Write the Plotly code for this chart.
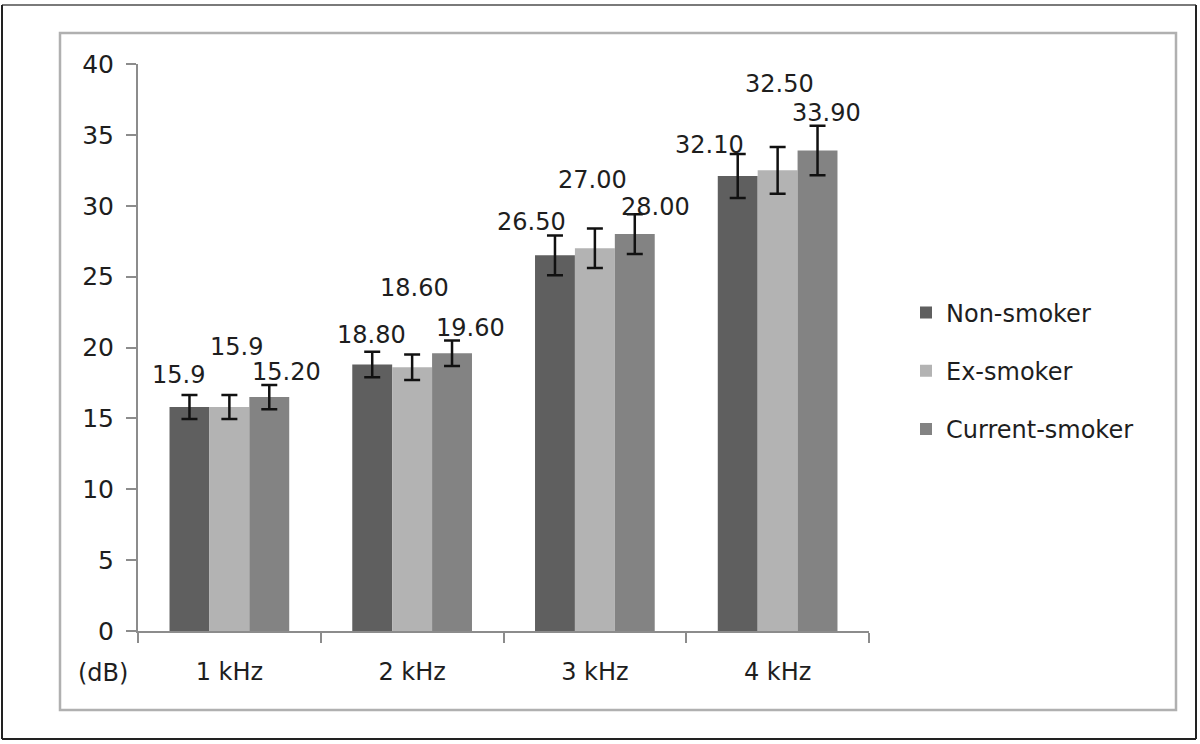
import plotly.graph_objects as go

# ---- data ----
categories = ["1 kHz", "2 kHz", "3 kHz", "4 kHz"]
series_names = ["Non-smoker", "Ex-smoker", "Current-smoker"]
non_smoker = [15.8, 18.8, 26.5, 32.1]
ex_smoker = [15.8, 18.6, 27.0, 32.5]
current_smoker = [16.5, 19.6, 28.0, 33.9]
non_err = [0.85, 0.9, 1.4, 1.55]
ex_err = [0.85, 0.9, 1.4, 1.65]
cur_err = [0.85, 0.9, 1.4, 1.75]
# data label texts as printed on the chart
non_labels = ["15.9", "18.80", "26.50", "32.10"]
ex_labels = ["15.9", "18.60", "27.00", "32.50"]
cur_labels = ["15.20", "19.60", "28.00", "33.90"]
y_ticks = [0, 5, 10, 15, 20, 25, 30, 35, 40]

# ---- styling / layout constants ----
colors = ["#5f5f5f", "#b3b3b3", "#838383"]
FONT = "DejaVu Sans"
TXT = "#1e1e1e"
W, H = 1200, 744
ML, MR, MT, MB = 138, 331, 64, 113
PW, PH = W - ML - MR, H - MT - MB

def px_x(p):
    return (p - ML) / PW

def px_y(p):
    return (H - MB - p) / PH

# label placement (data-y of label centre, x shift in px relative to category centre)
label_y = {
    0: [18.07, 20.89, 28.86, 34.30],
    1: [20.04, 24.21, 31.83, 38.60],
    2: [18.28, 21.38, 29.93, 36.56],
}
label_dx = {
    0: [-51, -41, -63, -68],
    1: [7, 2, -2, 2],
    2: [57, 58, 61, 49],
}

values = [non_smoker, ex_smoker, current_smoker]
errs = [non_err, ex_err, cur_err]
texts = [non_labels, ex_labels, cur_labels]

fig = go.Figure()
for i, name in enumerate(series_names):
    fig.add_trace(go.Bar(
        x=categories, y=values[i], name=name,
        marker=dict(color=colors[i], line=dict(width=0)),
        error_y=dict(type="data", array=errs[i], visible=True,
                     color="#111111", thickness=2.5, width=8),
        legendgroup=name,
    ))

annotations = []
for i in range(3):
    for j, c in enumerate(categories):
        annotations.append(dict(
            x=c, y=label_y[i][j], xref="x", yref="y", text=texts[i][j],
            showarrow=False, xshift=label_dx[i][j], yanchor="middle",
            xanchor="center", font=dict(family=FONT, size=24, color=TXT)))

annotations.append(dict(
    x=px_x(103), y=0, xref="paper", yref="paper", text="(dB)",
    showarrow=False, yanchor="middle", xanchor="center", yshift=-42,
    font=dict(family=FONT, size=24, color=TXT)))

shapes = [
    # outer frame
    dict(type="line", xref="paper", yref="paper", x0=px_x(2), x1=px_x(1196),
         y0=px_y(5), y1=px_y(5), line=dict(color="#7a7a7a", width=2)),
    dict(type="line", xref="paper", yref="paper", x0=px_x(2), x1=px_x(2),
         y0=px_y(5), y1=px_y(739), line=dict(color="#222222", width=2)),
    dict(type="line", xref="paper", yref="paper", x0=px_x(1196), x1=px_x(1196),
         y0=px_y(5), y1=px_y(739), line=dict(color="#222222", width=2)),
    dict(type="line", xref="paper", yref="paper", x0=px_x(2), x1=px_x(1196),
         y0=px_y(739), y1=px_y(739), line=dict(color="#222222", width=2)),
    # inner frame
    dict(type="rect", xref="paper", yref="paper", x0=px_x(60), x1=px_x(1176),
         y0=px_y(710), y1=px_y(33), line=dict(color="#b0b0b0", width=2.5)),
]

fig.update_layout(
    width=W, height=H,
    margin=dict(l=ML, r=MR, t=MT, b=MB, pad=0),
    paper_bgcolor="white", plot_bgcolor="white",
    barmode="group", bargap=0.345, bargroupgap=0,
    font=dict(family=FONT, size=24, color=TXT),
    showlegend=True,
    legend=dict(x=px_x(906), xanchor="left", y=px_y(371), yanchor="middle",
                font=dict(family=FONT, size=24, color=TXT),
                tracegroupgap=24, bgcolor="rgba(0,0,0,0)"),
    annotations=annotations,
    shapes=shapes,
    xaxis=dict(showline=True, linecolor="#8c8c8c", linewidth=2,
               ticks="outside", tickson="boundaries", ticklen=10,
               tickcolor="#8c8c8c", tickwidth=2, showgrid=False,
               ticklabelstandoff=18,
               tickfont=dict(family=FONT, size=24, color=TXT)),
    yaxis=dict(range=[0, 40], tickvals=y_ticks, showline=True,
               linecolor="#8c8c8c", linewidth=2, ticks="outside", ticklen=10,
               tickcolor="#8c8c8c", tickwidth=2, showgrid=False,
               zeroline=False, ticklabelstandoff=7,
               tickfont=dict(family=FONT, size=25, color=TXT)),
)

fig.write_html(
    "out.html",
    config={"displayModeBar": False},
    post_script="document.body.style.margin='0';document.body.style.overflow='hidden';",
)
